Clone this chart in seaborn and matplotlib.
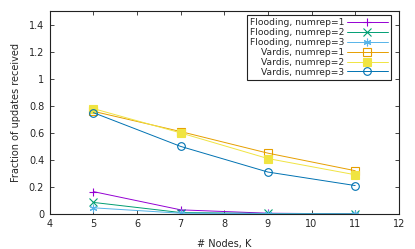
import seaborn as sns
import matplotlib.pyplot as plt
import pandas as pd

nodes = [5, 7, 9, 11]
flooding_1 = [0.165, 0.03, 0.005, 0.0]
flooding_2 = [0.085, 0.01, 0.003, 0.0]
flooding_3 = [0.045, 0.005, 0.002, 0.0]
vardis_1 = [0.76, 0.61, 0.45, 0.32]
vardis_2 = [0.78, 0.60, 0.41, 0.29]
vardis_3 = [0.75, 0.50, 0.31, 0.21]

series = [
    ("Flooding, numrep=1", flooding_1, "#9400d3", "+", True),
    ("Flooding, numrep=2", flooding_2, "#009e73", "x", True),
    ("Flooding, numrep=3", flooding_3, "#56b4e9", (6, 2, 0), True),
    ("Vardis, numrep=1", vardis_1, "#e69f00", "s", False),
    ("Vardis, numrep=2", vardis_2, "#f0e442", "s", True),
    ("Vardis, numrep=3", vardis_3, "#0072b2", "o", False),
]

sns.set_style("ticks")
plt.rcParams["font.family"] = ["DejaVu Sans"]
plt.rcParams["font.size"] = 7

fig = plt.figure(figsize=(4.15, 2.49), dpi=100)
ax = fig.add_axes([0.120, 0.141, 0.841, 0.813])

for name, vals, col, mk, filled in series:
    df = pd.DataFrame({"K": nodes, "frac": vals})
    sns.lineplot(data=df, x="K", y="frac", ax=ax, color=col, marker=mk,
                 markersize=5.5, linewidth=0.7, markeredgewidth=0.8,
                 markerfacecolor=col if filled else "none",
                 markeredgecolor=col, label=name)

ax.set_xlim(4, 12)
ax.set_ylim(0, 1.5)
ax.set_xticks(range(4, 13))
ax.set_yticks([0, 0.2, 0.4, 0.6, 0.8, 1.0, 1.2, 1.4])
ax.set_yticklabels(["0", "0.2", "0.4", "0.6", "0.8", "1", "1.2", "1.4"])
ax.tick_params(direction="in", top=True, right=True, length=3, width=0.6,
               labelsize=7, pad=4)
for s in ax.spines.values():
    s.set_linewidth(0.8)
    s.set_color("#222222")

ax.set_xlabel("# Nodes, K", fontsize=7, labelpad=7)
ax.set_ylabel("Fraction of updates received", fontsize=7, labelpad=6)

leg = ax.legend(loc="upper right", bbox_to_anchor=(0.977, 0.983),
                markerfirst=False, fontsize=6.6, frameon=True,
                fancybox=False, edgecolor="#222222", framealpha=1,
                handlelength=4.4, labelspacing=0.1, borderpad=0.35,
                borderaxespad=0, handletextpad=0.3)
leg.get_frame().set_linewidth(0.8)

fig.savefig("out.png", dpi=100)
